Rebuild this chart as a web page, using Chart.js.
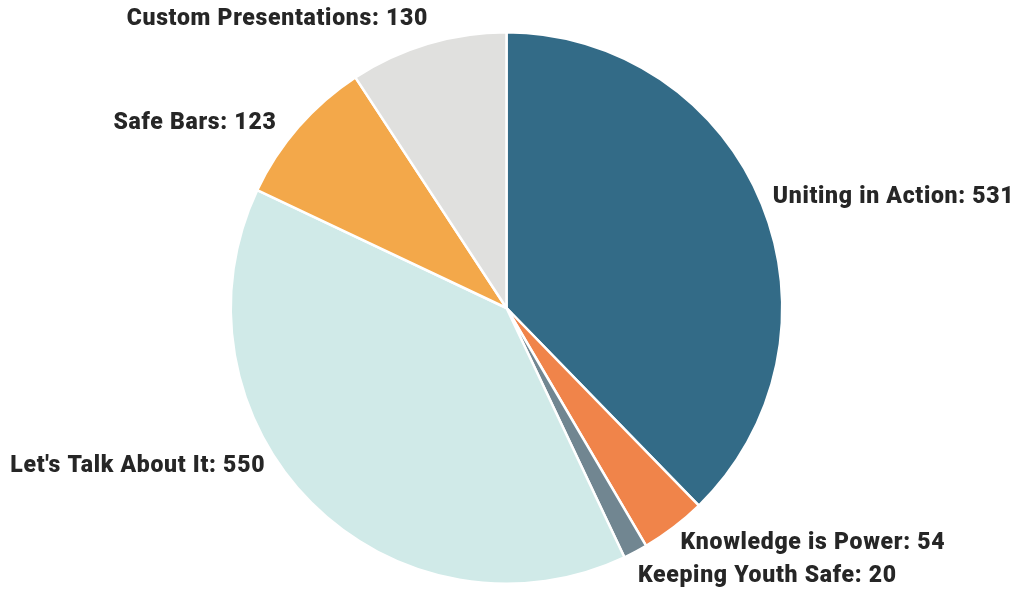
<!DOCTYPE html>
<html>
<head>
<meta charset="utf-8">
<script src="https://cdn.jsdelivr.net/npm/chart.js@4/dist/chart.umd.min.js"></script>
<style>
  html, body { margin: 0; padding: 0; background: #ffffff; }
  #wrap { width: 1027px; height: 589px; position: relative; }
</style>
</head>
<body>
<div id="wrap"><canvas id="c" width="1027" height="589"></canvas></div>
<script>
const categories = [
  "Uniting in Action",
  "Knowledge is Power",
  "Keeping Youth Safe",
  "Let's Talk About It",
  "Safe Bars",
  "Custom Presentations"
];
const values = [531, 54, 20, 550, 123, 130];
const sliceColors = ["#336b87", "#f0844a", "#718691", "#d0eae8", "#f3a84a", "#e0e0de"];

// label nudges (pixels, relative to computed anchor) — styling only
const labelNudge = [[-4, -1], [-3, 3], [-5, 10], [-35, -48], [-10, 7], [5, -9]];

const outsideLabels = {
  id: 'outsideLabels',
  afterDraw(chart) {
    const ctx = chart.ctx;
    const meta = chart.getDatasetMeta(0);
    ctx.save();
    ctx.font = '900 23px Roboto';
    if ('letterSpacing' in ctx) ctx.letterSpacing = '0.7px';
    ctx.fillStyle = '#262626';
    ctx.textBaseline = 'middle';
    meta.data.forEach((arc, i) => {
      const p = arc.getProps(['x', 'y', 'startAngle', 'endAngle', 'outerRadius'], true);
      const mid = (p.startAngle + p.endAngle) / 2;
      const R = p.outerRadius + 16;
      let x = p.x + Math.cos(mid) * R;
      let y = p.y + Math.sin(mid) * R;
      const n = labelNudge[i] || [0, 0];
      x += n[0]; y += n[1];
      const left = Math.cos(mid) >= 0;
      ctx.textAlign = left ? 'left' : 'right';
      ctx.fillText(categories[i] + ': ' + values[i], x, y);
    });
    ctx.restore();
  }
};

new Chart(document.getElementById('c'), {
  type: 'pie',
  data: {
    labels: categories,
    datasets: [{
      data: values,
      backgroundColor: sliceColors,
      borderColor: '#ffffff',
      borderWidth: 2.5,
      hoverOffset: 0
    }]
  },
  options: {
    responsive: false,
    animation: false,
    layout: { padding: { top: 31, bottom: 4, left: 0, right: 14 } },
    plugins: {
      legend: { display: false },
      tooltip: { enabled: false },
      title: { display: false }
    }
  },
  plugins: [outsideLabels]
});
</script>
</body>
</html>
